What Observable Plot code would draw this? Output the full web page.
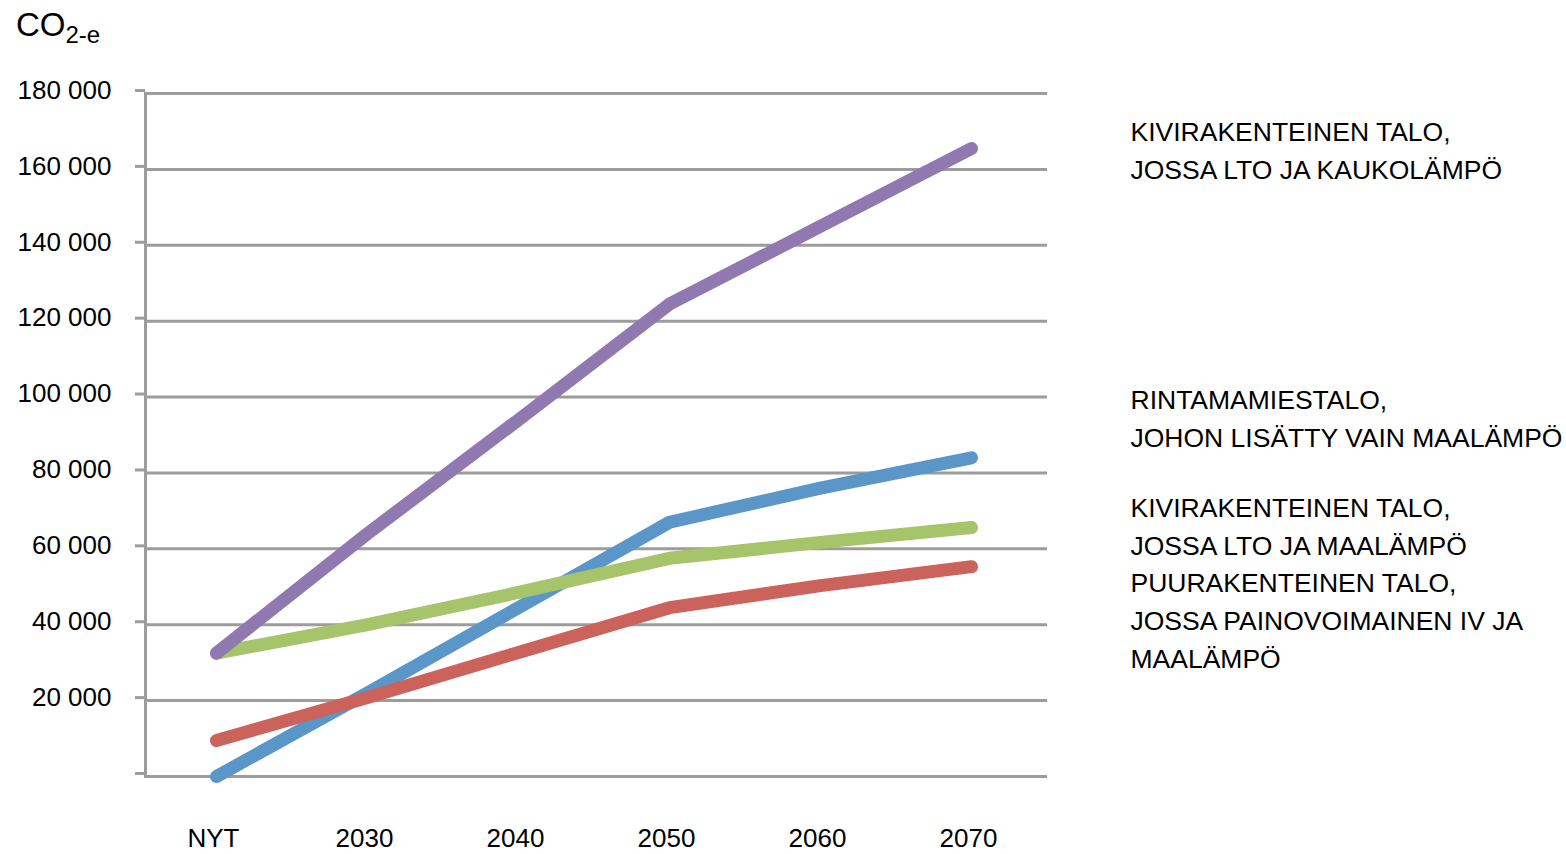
<!DOCTYPE html>
<html>
<head>
<meta charset="utf-8">
<script src="https://cdn.jsdelivr.net/npm/d3@7"></script>
<script src="https://cdn.jsdelivr.net/npm/@observablehq/plot@0.6"></script>
<style>
  html, body { margin: 0; padding: 0; background: #fff; }
  #chart svg { display: block; }
</style>
</head>
<body>
<div id="chart"></div>
<script>
// ---- data ----
const years = ["NYT", "2030", "2040", "2050", "2060", "2070"];
const yTicks = [0, 20000, 40000, 60000, 80000, 100000, 120000, 140000, 160000, 180000];

const seriesNames = ["rintama", "puu", "kiviMaa", "kiviKauko"];
const seriesLabels = [
  "RINTAMAMIESTALO,\nJOHON LISÄTTY VAIN MAALÄMPÖ",
  "PUURAKENTEINEN TALO,\nJOSSA PAINOVOIMAINEN IV JA\nMAALÄMPÖ",
  "KIVIRAKENTEINEN TALO,\nJOSSA LTO JA MAALÄMPÖ",
  "KIVIRAKENTEINEN TALO,\nJOSSA LTO JA KAUKOLÄMPÖ"
];
const rintamaValues   = [0, 22000, 44500, 67000, 76000, 84000];
const puuValues       = [9500, 20800, 32700, 44500, 50300, 55300];
const kiviMaaValues   = [32500, 40000, 48500, 57500, 61700, 65600];
const kiviKaukoValues = [32500, 64000, 94000, 124500, 145000, 165500];
const seriesValues = [rintamaValues, puuValues, kiviMaaValues, kiviKaukoValues];
const seriesColors = ["#5B96C9", "#CB625B", "#A6C46A", "#9079B1"];
const labelDy = [-42, 51, -4, -1];

// ---- build table ----
const rows = [];
seriesNames.forEach((s, i) => {
  years.forEach((yr, j) => rows.push({series: s, year: yr, value: seriesValues[i][j]}));
});
const lastPoints = seriesNames.map((s, i) => ({series: s, label: seriesLabels[i], value: seriesValues[i][years.length - 1]}));

const font = "'Liberation Sans', Arial, Helvetica, sans-serif";
const gridColor = "#9c9c9c";

const fmt = d => d === 0 ? "" : d3.format(",")(d).replace(/,/g, " ");

const marks = [
  Plot.ruleY(yTicks, {stroke: gridColor, strokeWidth: 3}),
  Plot.axisY({ticks: yTicks, tickSize: 10, tickPadding: 24, tickFormat: fmt, stroke: gridColor, strokeWidth: 3, fontSize: 26, fill: "#000", dy: -3, label: null}),
  Plot.frame({anchor: "left", stroke: gridColor, strokeWidth: 3}),
  Plot.axisX({tickSize: 0, tickPadding: 52, fontSize: 26, fill: "#000", dx: -3, label: null})
];
seriesNames.forEach((s, i) => {
  marks.push(Plot.line(rows.filter(r => r.series === s), {
    x: "year", y: "value", stroke: seriesColors[i], strokeWidth: 13,
    strokeLinecap: "round", strokeLinejoin: "round"
  }));
});
seriesNames.forEach((s, i) => {
  marks.push(Plot.text([lastPoints[i]], {
    y: "value", text: "label", frameAnchor: "right", dx: 83, dy: labelDy[i],
    textAnchor: "start", lineAnchor: "middle", lineHeight: 1.43, fontSize: 26.5, fill: "#000"
  }));
});

const chart = Plot.plot({
  width: 1566,
  height: 854,
  marginLeft: 145,
  marginRight: 519,
  marginTop: 93,
  marginBottom: 78,
  style: {fontFamily: font, background: "#fff", overflow: "visible"},
  x: {type: "point", domain: years, padding: 0.479, align: 0.483},
  y: {domain: [0, 180000]},
  marks
});

// y-axis title with subscript
const svg = d3.select(chart);
const title = svg.append("text")
  .attr("x", 16).attr("y", 36)
  .attr("text-anchor", "start")
  .attr("font-family", font).attr("font-size", 33).attr("fill", "#000");
title.append("tspan").text("CO");
title.append("tspan").attr("font-size", 24).attr("dy", 7).text("2-e");

document.getElementById("chart").appendChild(chart);
</script>
</body>
</html>
